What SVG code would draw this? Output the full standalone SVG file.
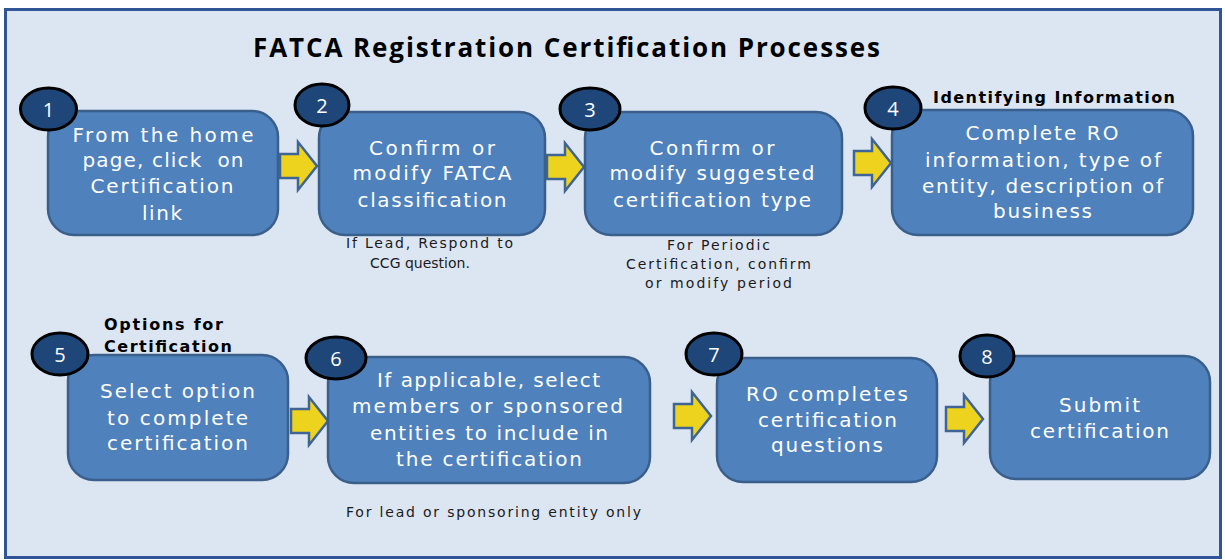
<svg xmlns="http://www.w3.org/2000/svg" width="1225" height="560" viewBox="0 0 1225 560">
<defs>
<style>
.frame{fill:#DCE6F2;stroke:#2F5597;stroke-width:3}
.box{fill:#4F81BD;stroke:#3A5F8B;stroke-width:2.5}
.badge{fill:#1F4678;stroke:#000;stroke-width:3}
.num{font-family:"Open Sans","Liberation Sans",sans-serif;font-size:20px;fill:#fff;text-anchor:middle}
.bt{font-family:"DejaVu Sans","Open Sans",sans-serif;font-size:20px;fill:#fff;text-anchor:middle;white-space:pre}
.note{font-family:"DejaVu Sans","Open Sans",sans-serif;font-size:14px;fill:#1a1a1a}
.lbl{font-family:"DejaVu Sans","Open Sans",sans-serif;font-size:16px;font-weight:bold;fill:#000}
.title{font-family:"Open Sans","Liberation Sans",sans-serif;font-size:26px;font-weight:bold;fill:#000}
.arrow{fill:#EDD31E;stroke:#3F6596;stroke-width:2.5;stroke-linejoin:miter}
</style>
<path id="arr" class="arrow" d="M0,-12 H18 V-24 L37,0 L18,24 V12 H0 Z"/>
</defs>
<rect class="frame" x="5.5" y="9.5" width="1215" height="548"/>
<text class="title" x="253" y="57" textLength="627">FATCA Registration Certification Processes</text>

<g id="connectors">
<use href="#arr" x="280" y="166"/>
<use href="#arr" x="547" y="167"/>
<use href="#arr" x="854" y="163"/>
<use href="#arr" x="291" y="421"/>
<use href="#arr" x="674" y="416"/>
<use href="#arr" x="946" y="419"/>
</g>

<g id="node1">
<rect class="box" x="48" y="111" width="230" height="124" rx="26"/>
<ellipse class="badge" cx="48.5" cy="109" rx="28" ry="21"/>
<text class="num" x="48.5" y="117">1</text>
<text class="bt" x="163" y="142" textLength="181">From the home</text>
<text class="bt" x="163" y="167" textLength="161" xml:space="preserve">page, click  on</text>
<text class="bt" x="162" y="193" textLength="143">Certification</text>
<text class="bt" x="162" y="220" textLength="40">link</text>
</g>

<g id="node2">
<rect class="box" x="319" y="112" width="226" height="123" rx="26"/>
<ellipse class="badge" cx="322" cy="105" rx="27" ry="21"/>
<text class="num" x="322" y="113">2</text>
<text class="bt" x="432" y="155" textLength="126">Confirm or</text>
<text class="bt" x="432" y="180" textLength="159">modify FATCA</text>
<text class="bt" x="432" y="207" textLength="149">classification</text>
<text class="note" x="429.5" y="248" text-anchor="middle" textLength="167">If Lead, Respond to</text>
<text class="note" x="420" y="268" text-anchor="middle">CCG question.</text>
</g>

<g id="node3">
<rect class="box" x="585" y="112" width="257" height="123" rx="26"/>
<ellipse class="badge" cx="590" cy="109" rx="30" ry="21"/>
<text class="num" x="590" y="117">3</text>
<text class="bt" x="712" y="155" textLength="125">Confirm or</text>
<text class="bt" x="712" y="180" textLength="205">modify suggested</text>
<text class="bt" x="712" y="207" textLength="198">certification type</text>
<text class="note" x="718.5" y="250" text-anchor="middle" textLength="103">For Periodic</text>
<text class="note" x="718.5" y="269" text-anchor="middle" textLength="185">Certification, confirm</text>
<text class="note" x="718.5" y="288" text-anchor="middle" textLength="147">or modify period</text>
</g>

<g id="node4">
<rect class="box" x="892" y="110" width="301" height="125" rx="26"/>
<ellipse class="badge" cx="893" cy="108" rx="28" ry="21"/>
<text class="num" x="893" y="116">4</text>
<text class="lbl" x="933" y="103" textLength="242">Identifying Information</text>
<text class="bt" x="1042" y="140" textLength="153">Complete RO</text>
<text class="bt" x="1043" y="167" textLength="236">information, type of</text>
<text class="bt" x="1042.5" y="193" textLength="241">entity, description of</text>
<text class="bt" x="1042.5" y="218" textLength="99">business</text>
</g>

<g id="node5">
<rect class="box" x="68" y="355" width="220" height="125" rx="26"/>
<ellipse class="badge" cx="60" cy="354" rx="28" ry="21"/>
<text class="num" x="60" y="362">5</text>
<text class="lbl" x="104" y="330" textLength="119">Options for</text>
<text class="lbl" x="104" y="352" textLength="128">Certification</text>
<text class="bt" x="177.5" y="398" textLength="155">Select option</text>
<text class="bt" x="177.5" y="425" textLength="141">to complete</text>
<text class="bt" x="177.5" y="450" textLength="141">certification</text>
</g>

<g id="node6">
<rect class="box" x="328" y="357" width="322" height="126" rx="26"/>
<ellipse class="badge" cx="336" cy="358" rx="30" ry="21"/>
<text class="num" x="336" y="366">6</text>
<text class="bt" x="488.5" y="387" textLength="223">If applicable, select</text>
<text class="bt" x="487.5" y="413" textLength="271">members or sponsored</text>
<text class="bt" x="489" y="440" textLength="238">entities to include in</text>
<text class="bt" x="489" y="466" textLength="186">the certification</text>
<text class="note" x="346" y="517" textLength="295">For lead or sponsoring entity only</text>
</g>

<g id="node7">
<rect class="box" x="717" y="358" width="220" height="124" rx="26"/>
<ellipse class="badge" cx="714" cy="354" rx="28" ry="21"/>
<text class="num" x="714" y="362">7</text>
<text class="bt" x="827" y="401" textLength="162">RO completes</text>
<text class="bt" x="827.5" y="427" textLength="139">certification</text>
<text class="bt" x="827" y="452" textLength="112">questions</text>
</g>

<g id="node8">
<rect class="box" x="990" y="356" width="220" height="123" rx="26"/>
<ellipse class="badge" cx="987" cy="356" rx="27" ry="21"/>
<text class="num" x="987" y="364">8</text>
<text class="bt" x="1099.5" y="412" textLength="81">Submit</text>
<text class="bt" x="1099.5" y="438" textLength="139">certification</text>
</g>
</svg>
